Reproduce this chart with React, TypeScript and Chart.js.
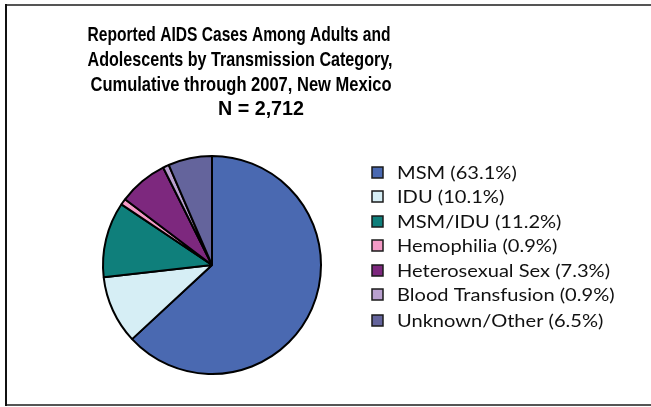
import React, { useEffect, useRef } from "react";
import { Chart, registerables } from "chart.js";

Chart.register(...registerables);

const categories = [
  "MSM",
  "IDU",
  "MSM/IDU",
  "Hemophilia",
  "Heterosexual Sex",
  "Blood Transfusion",
  "Unknown/Other",
];
const percentages = [63.1, 10.1, 11.2, 0.9, 7.3, 0.9, 6.5];
const sliceColors = [
  "#4a69b1",
  "#d6eef5",
  "#0f7f7b",
  "#f49ac6",
  "#7d287e",
  "#b9a0cf",
  "#64649c",
];
const titleLines = [
  "Reported AIDS Cases Among Adults and",
  "Adolescents by Transmission Category,",
  "Cumulative through 2007, New Mexico",
  "N = 2,712",
];
const titleCenters = [239, 240, 241, 261];
const titleWidths = [303, 305, 301, 86];
const titleY = [35, 60, 85, 109];
const legendRowY = [173, 197, 222, 246, 271, 295, 321];

const framePlugin = {
  id: "frame",
  beforeDraw(chart: any) {
    const ctx = chart.ctx;
    ctx.save();
    ctx.fillStyle = "#ffffff";
    ctx.fillRect(0, 0, chart.width, chart.height);
    ctx.fillStyle = "#555555";
    ctx.fillRect(5, 4, chart.width - 5, 2);
    ctx.fillRect(5, 404, chart.width - 5, 2);
    ctx.fillStyle = "#111111";
    ctx.fillRect(5, 4, 2, 402);
    ctx.restore();
  },
};

function drawScaled(ctx: any, text: string, x: number, y: number, sx: number, align: string) {
  ctx.save();
  ctx.translate(x, y);
  ctx.scale(sx, 1);
  ctx.textAlign = align;
  ctx.fillText(text, 0, 0);
  ctx.restore();
}

const textPlugin = {
  id: "texts",
  afterDraw(chart: any) {
    const ctx = chart.ctx;
    ctx.save();
    ctx.fillStyle = "#000000";
    ctx.textBaseline = "middle";
    ctx.font = "bold 21px 'Liberation Sans', sans-serif";
    titleLines.forEach((line, i) => {
      const s = titleWidths[i] / ctx.measureText(line).width;
      drawScaled(ctx, line, titleCenters[i], titleY[i], s, "center");
    });
    const labels = chart.data.labels as string[];
    const ds = chart.data.datasets[0];
    ctx.font = "18px Lato, sans-serif";
    const lScale = 213 / ctx.measureText("Heterosexual Sex (7.3%)").width;
    labels.forEach((lab, i) => {
      const y = legendRowY[i];
      ctx.fillStyle = ds.backgroundColor[i];
      ctx.fillRect(372, y - 6, 11, 11);
      ctx.strokeStyle = "#1a1a1a";
      ctx.lineWidth = 1.5;
      ctx.strokeRect(372, y - 6, 11, 11);
      ctx.fillStyle = "#111111";
      drawScaled(ctx, `${lab} (${ds.data[i].toFixed(1)}%)`, 397, y, lScale, "left");
    });
    ctx.restore();
  },
};

export default function App() {
  const ref = useRef<HTMLCanvasElement>(null);
  useEffect(() => {
    document.body.style.margin = "0";
    const chart = new Chart(ref.current as HTMLCanvasElement, {
      type: "pie",
      data: {
        labels: categories,
        datasets: [
          {
            data: percentages,
            backgroundColor: sliceColors,
            borderColor: "#000000",
            borderWidth: 2,
          },
        ],
      },
      options: {
        responsive: false,
        animation: false,
        radius: 109,
        layout: { padding: { left: 90, right: 317, top: 150, bottom: 27 } },
        plugins: {
          legend: { display: false },
          title: { display: false },
          tooltip: { enabled: false },
        },
      } as any,
      plugins: [framePlugin, textPlugin],
    });
    return () => chart.destroy();
  }, []);
  return (
    <div style={{ width: 651, height: 407 }}>
      <canvas ref={ref} width={651} height={407} />
    </div>
  );
}
